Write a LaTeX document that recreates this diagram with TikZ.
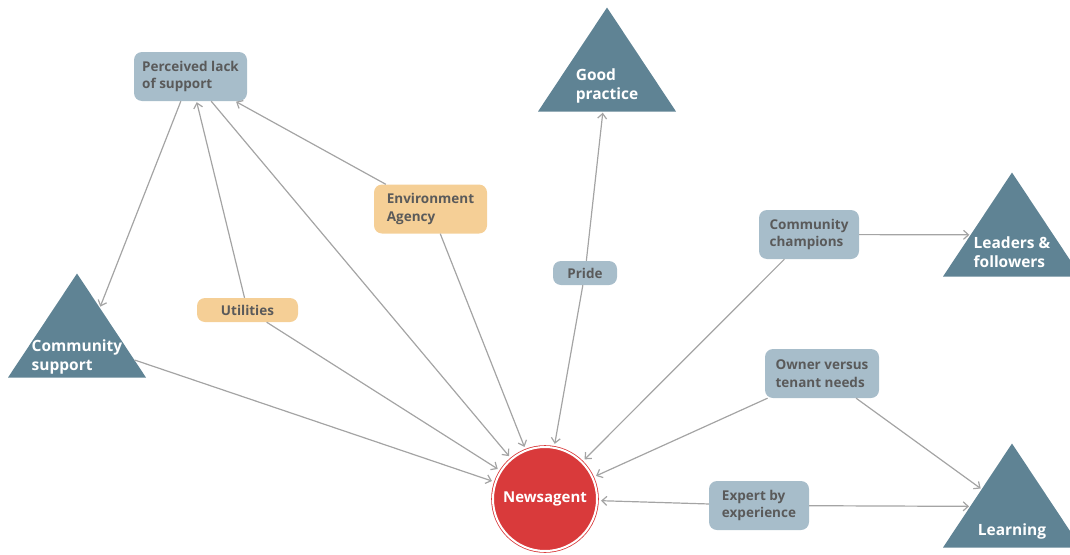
\documentclass[tikz,border=0pt]{standalone}
\usepackage{fontspec}
\setmainfont{Open Sans}
\usetikzlibrary{arrows.meta,shapes.geometric,calc}

\definecolor{boxblue}{HTML}{A7BDCA}
\definecolor{boxpeach}{HTML}{F5CF96}
\definecolor{triblue}{HTML}{5F8394}
\definecolor{newsred}{HTML}{D93A3B}
\definecolor{linegrey}{HTML}{A4A4A4}
\definecolor{textgrey}{HTML}{5A5A5A}

\begin{document}
\begin{tikzpicture}[
            x = 1pt, y = -1pt, % reference pixel grid
            > = {Straight Barb[length=5pt,width=9pt]}, % arrow head style
            shorten > = 1pt
        ]

        \tikzstyle{factor}=[
            rectangle,
            rounded corners = 8pt,
            fill = boxblue,
            text = textgrey,
            font = \bfseries\fontsize{13.5}{17.5}\selectfont,
            align = left,
            inner sep = 0pt,
            minimum height = 49pt
        ]
        \tikzstyle{agency}=[factor, fill = boxpeach]
        \tikzstyle{outcome}=[
            isosceles triangle,
            shape border rotate = 90,
            isosceles triangle stretches,
            minimum width = 138pt,
            minimum height = 104pt,
            inner sep = 0pt,
            fill = triblue,
            anchor = apex
        ]
        \tikzstyle{outcome text}=[
            text = white,
            font = \bfseries\fontsize{15.5}{19}\selectfont,
            align = left,
            inner sep = 0pt
        ]
        \tikzstyle{hub}=[
            circle,
            fill = newsred,
            draw = newsred,
            double = white,
            double distance = 2pt,
            line width = 0.8pt,
            minimum size = 104pt,
            outer sep = 3pt,
            text = white,
            font = \bfseries\fontsize{15}{18}\selectfont
        ]
        \tikzstyle{link}=[->, draw = linegrey, line width = 1.2pt]

        \useasboundingbox (0,0) rectangle (1070,554);

        % outcomes
        \node[outcome] (good) at (607,7) {};
        \node[outcome] (leaders) at (1012,172) {};
        \node[outcome] (commsup) at (77,273) {};
        \node[outcome] (learning) at (1012,443) {};
        \node[outcome text] (goodtext) at (607,86) {Good\\practice};
        \node[outcome text] (leaderstext) at (1012,252) {Leaders \&\\followers};
        \node[outcome text] (commsuptext) at (77,357) {Community\\support};
        \node[outcome text] (learningtext) at (1012,531) {Learning};

        % factors
        \node[factor, minimum width = 113pt] (lack) at (190.5,76.5) {Perceived lack\\of support};
        \node[agency, minimum width = 113pt] (envag) at (430.5,209) {Environment\\Agency};
        \node[factor, minimum width = 100pt] (champ) at (809,234.5) {Community\\champions};
        \node[factor, minimum width = 64pt, minimum height = 24pt] (pride) at (585,273) {Pride};
        \node[agency, minimum width = 101pt, minimum height = 24pt] (util) at (247.5,310) {Utilities};
        \node[factor, minimum width = 114pt] (owner) at (822,373.5) {Owner versus\\tenant needs};
        \node[factor, minimum width = 100pt] (expert) at (759,505.5) {Expert by\\experience};

        \node[hub] (news) at (545,499) {Newsagent};

        \draw[link] (lack) -- ($(commsup.apex)!0.33!(commsup.right corner)$);
        \draw[link] (util) -- (lack);
        \draw[link] (envag) -- (lack);
        \draw[link] (lack) -- (news);
        \draw[link] (util) -- (news);
        \draw[link] (envag) -- (news);
        \draw[link] (commsup) -- (news);
        \draw[link] (pride) -- (good);
        \draw[link] (pride) -- (news);
        \draw[link] (champ) -- (news);
        \draw[link] (champ) -- ($(leaders.apex)!0.6!(leaders.left corner)$);
        \draw[link] (owner) -- ($(learning.apex)!0.44!(learning.left corner)$);
        \draw[link] (owner) -- (news);
        \draw[link] (expert) -- (news);
        \draw[link] (expert) -- ($(learning.apex)!0.605!(learning.left corner)$);

    \end{tikzpicture}
\end{document}
